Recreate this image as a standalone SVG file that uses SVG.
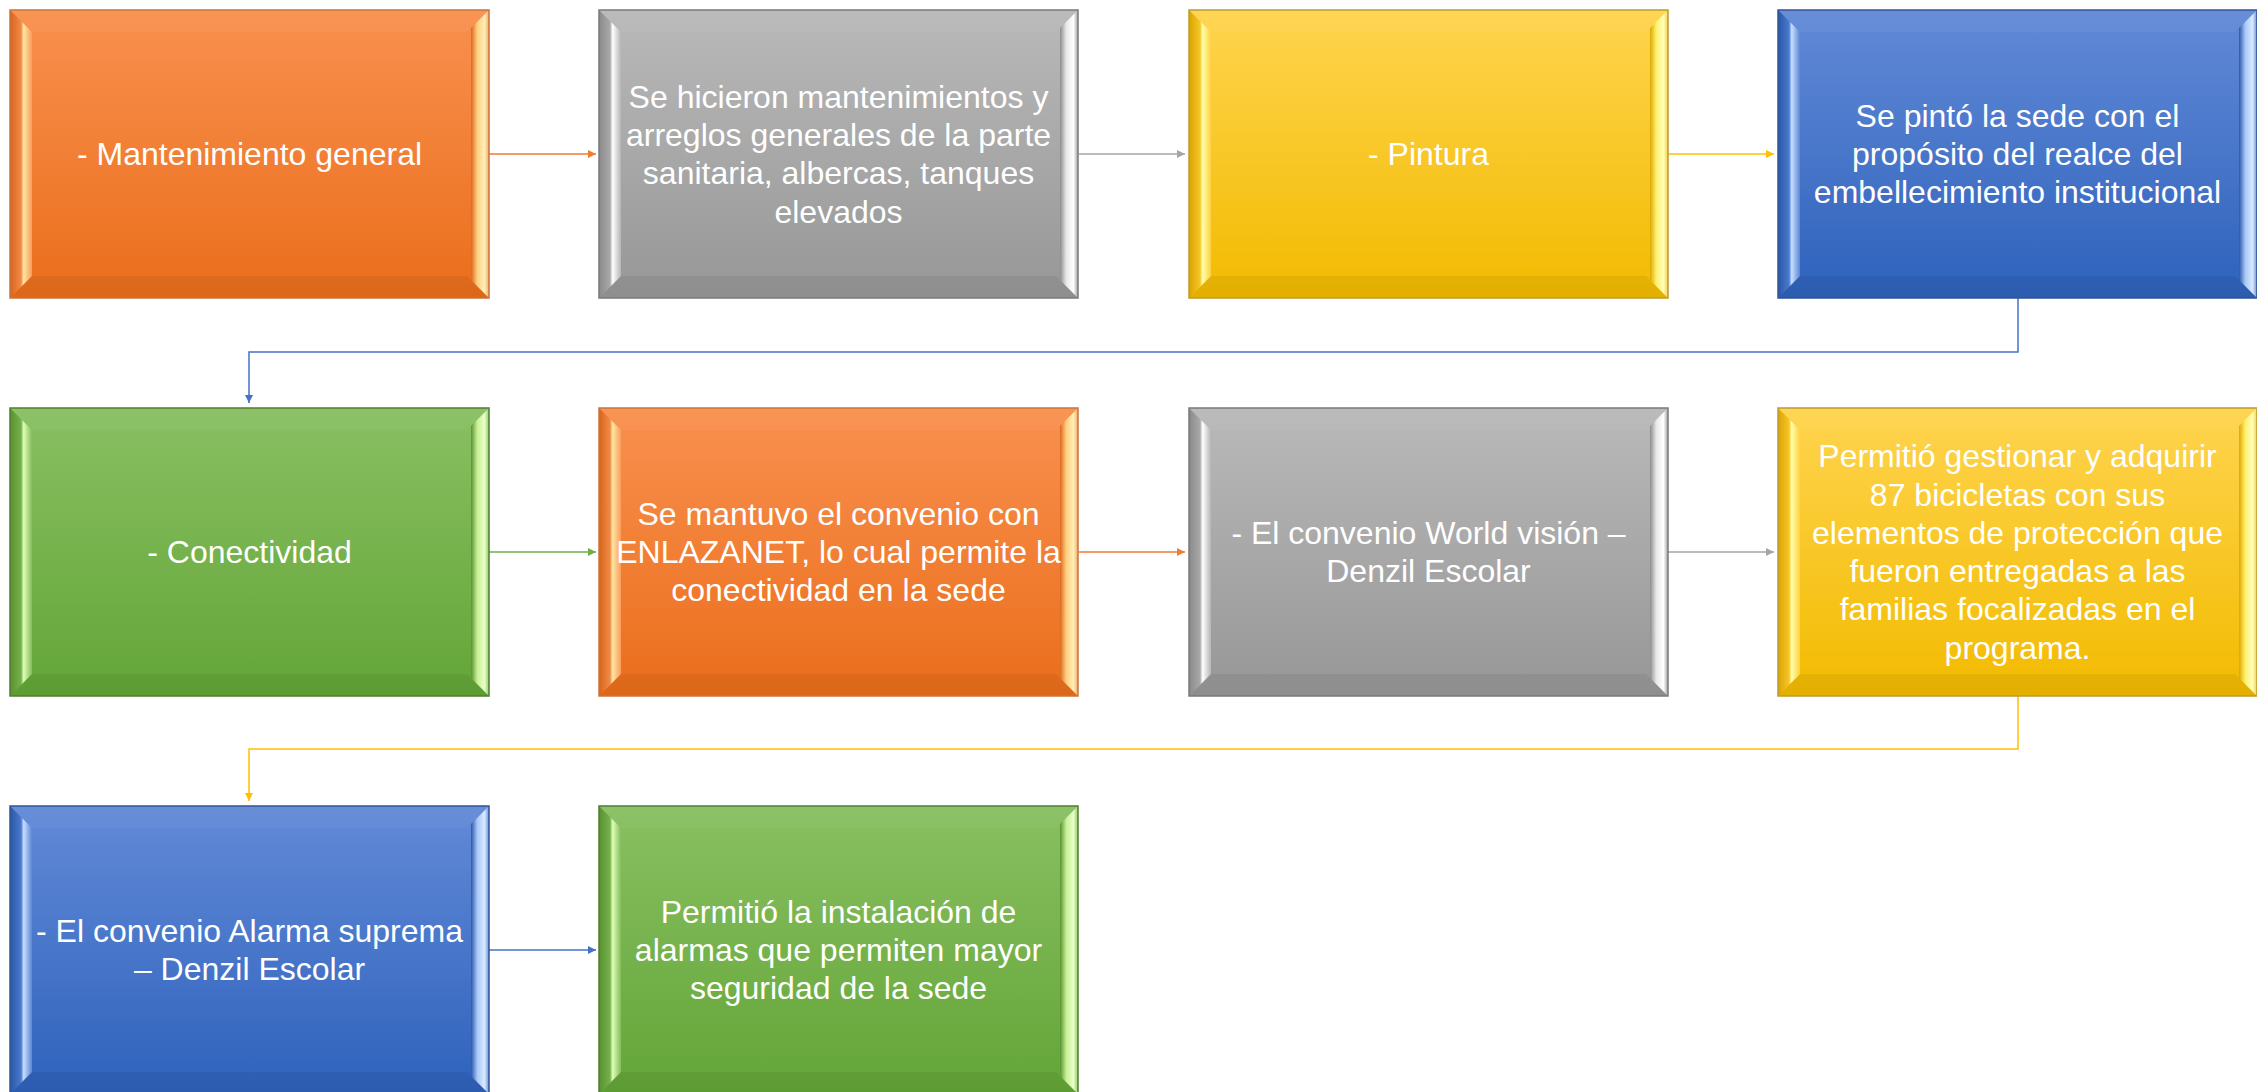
<svg xmlns="http://www.w3.org/2000/svg" width="2257" height="1092" viewBox="0 0 2257 1092">
<defs>
<style>
.t{font-family:"Liberation Sans",Arial,sans-serif;font-size:32px;fill:#fff;text-anchor:middle}
.top{fill:#fff;fill-opacity:.04}
.bot{fill:#000;fill-opacity:.06}
.edge{fill:none;stroke-width:1.5}
.c{fill:none;stroke-width:1.5}
</style>
<linearGradient id="bO" x1="0" y1="0" x2="0" y2="1"><stop offset="0" stop-color="#F9904F"/><stop offset="1" stop-color="#EA6E1B"/></linearGradient>
<linearGradient id="bG" x1="0" y1="0" x2="0" y2="1"><stop offset="0" stop-color="#B9B9B9"/><stop offset="1" stop-color="#979797"/></linearGradient>
<linearGradient id="bY" x1="0" y1="0" x2="0" y2="1"><stop offset="0" stop-color="#FFD44F"/><stop offset="1" stop-color="#F2BB00"/></linearGradient>
<linearGradient id="bB" x1="0" y1="0" x2="0" y2="1"><stop offset="0" stop-color="#628AD7"/><stop offset="1" stop-color="#2E62BC"/></linearGradient>
<linearGradient id="bN" x1="0" y1="0" x2="0" y2="1"><stop offset="0" stop-color="#89C062"/><stop offset="1" stop-color="#63A537"/></linearGradient>
<linearGradient id="lO" x1="0" y1="0" x2="1" y2="0"><stop offset="0" stop-color="#D9641A"/><stop offset=".5" stop-color="#F08A48"/><stop offset=".62" stop-color="#FFE6A0"/><stop offset="1" stop-color="#FA9C5C"/></linearGradient>
<linearGradient id="lG" x1="0" y1="0" x2="1" y2="0"><stop offset="0" stop-color="#8A8A8A"/><stop offset=".5" stop-color="#A8A8A8"/><stop offset=".62" stop-color="#FFFFFF"/><stop offset="1" stop-color="#B5B5B5"/></linearGradient>
<linearGradient id="lY" x1="0" y1="0" x2="1" y2="0"><stop offset="0" stop-color="#D9A500"/><stop offset=".5" stop-color="#F7C52A"/><stop offset=".62" stop-color="#FFFFA8"/><stop offset="1" stop-color="#FFD040"/></linearGradient>
<linearGradient id="lB" x1="0" y1="0" x2="1" y2="0"><stop offset="0" stop-color="#2A58A8"/><stop offset=".5" stop-color="#4A78CC"/><stop offset=".62" stop-color="#C6DEFF"/><stop offset="1" stop-color="#5C86D4"/></linearGradient>
<linearGradient id="lN" x1="0" y1="0" x2="1" y2="0"><stop offset="0" stop-color="#58922F"/><stop offset=".5" stop-color="#76B04C"/><stop offset=".62" stop-color="#DDFFB5"/><stop offset="1" stop-color="#84BC5C"/></linearGradient>
<linearGradient id="rO" x1="0" y1="0" x2="1" y2="0"><stop offset="0" stop-color="#DC681E"/><stop offset=".35" stop-color="#FFCF80"/><stop offset=".75" stop-color="#FFF0B8"/><stop offset="1" stop-color="#F4A868"/></linearGradient>
<linearGradient id="rG" x1="0" y1="0" x2="1" y2="0"><stop offset="0" stop-color="#8C8C8C"/><stop offset=".35" stop-color="#E8E8E8"/><stop offset=".75" stop-color="#FFFFFF"/><stop offset="1" stop-color="#A0A0A0"/></linearGradient>
<linearGradient id="rY" x1="0" y1="0" x2="1" y2="0"><stop offset="0" stop-color="#DDA800"/><stop offset=".35" stop-color="#FFF070"/><stop offset=".75" stop-color="#FFFFB8"/><stop offset="1" stop-color="#F5D050"/></linearGradient>
<linearGradient id="rB" x1="0" y1="0" x2="1" y2="0"><stop offset="0" stop-color="#2A58A8"/><stop offset=".35" stop-color="#A8C8F8"/><stop offset=".75" stop-color="#D8EAFF"/><stop offset="1" stop-color="#6A92D8"/></linearGradient>
<linearGradient id="rN" x1="0" y1="0" x2="1" y2="0"><stop offset="0" stop-color="#58922F"/><stop offset=".35" stop-color="#C8F096"/><stop offset=".75" stop-color="#E8FFC8"/><stop offset="1" stop-color="#92C86A"/></linearGradient>
<marker id="aO" markerUnits="userSpaceOnUse" markerWidth="10" markerHeight="10" refX="8" refY="4" orient="auto"><path d="M0,0 L8,4 L0,8 Z" fill="#ED7D31"/></marker>
<marker id="aG" markerUnits="userSpaceOnUse" markerWidth="10" markerHeight="10" refX="8" refY="4" orient="auto"><path d="M0,0 L8,4 L0,8 Z" fill="#A5A5A5"/></marker>
<marker id="aY" markerUnits="userSpaceOnUse" markerWidth="10" markerHeight="10" refX="8" refY="4" orient="auto"><path d="M0,0 L8,4 L0,8 Z" fill="#FFC000"/></marker>
<marker id="aB" markerUnits="userSpaceOnUse" markerWidth="10" markerHeight="10" refX="8" refY="4" orient="auto"><path d="M0,0 L8,4 L0,8 Z" fill="#4472C4"/></marker>
<marker id="aN" markerUnits="userSpaceOnUse" markerWidth="10" markerHeight="10" refX="8" refY="4" orient="auto"><path d="M0,0 L8,4 L0,8 Z" fill="#70AD47"/></marker>
</defs>

<rect width="2257" height="1092" fill="#fff"/>

<g id="connectors">
<path class="c" stroke="#ED7D31" d="M489,154 H596" marker-end="url(#aO)"/>
<path class="c" stroke="#A5A5A5" d="M1079,154 H1185" marker-end="url(#aG)"/>
<path class="c" stroke="#FFC000" d="M1668,154 H1774" marker-end="url(#aY)"/>
<path class="c" stroke="#4472C4" d="M2018,298 V352 H249 V403" marker-end="url(#aB)"/>
<path class="c" stroke="#70AD47" d="M489,552 H596" marker-end="url(#aN)"/>
<path class="c" stroke="#ED7D31" d="M1079,552 H1185" marker-end="url(#aO)"/>
<path class="c" stroke="#A5A5A5" d="M1668,552 H1774" marker-end="url(#aG)"/>
<path class="c" stroke="#FFC000" d="M2018,696 V749 H249 V801" marker-end="url(#aY)"/>
<path class="c" stroke="#4472C4" d="M489,950 H596" marker-end="url(#aB)"/>
</g>

<g id="n1" transform="translate(10,10)">
<rect width="479" height="288" fill="url(#bO)"/>
<polygon class="top" points="0,0 479,0 457,22 22,22"/>
<polygon class="bot" points="0,288 22,266 457,266 479,288"/>
<polygon points="0,0 22,22 22,266 0,288" fill="url(#lO)"/>
<polygon points="479,0 479,288 461,270 461,18" fill="url(#rO)"/>
<rect class="edge" width="479" height="288" stroke="#C8743E"/>
<text class="t" x="239.5" y="155">- Mantenimiento general</text>
</g>

<g id="n2" transform="translate(599,10)">
<rect width="479" height="288" fill="url(#bG)"/>
<polygon class="top" points="0,0 479,0 457,22 22,22"/>
<polygon class="bot" points="0,288 22,266 457,266 479,288"/>
<polygon points="0,0 22,22 22,266 0,288" fill="url(#lG)"/>
<polygon points="479,0 479,288 461,270 461,18" fill="url(#rG)"/>
<rect class="edge" width="479" height="288" stroke="#7A7A7A"/>
<text class="t" x="239.5" y="97.5">Se hicieron mantenimientos y</text>
<text class="t" x="239.5" y="135.8">arreglos generales de la parte</text>
<text class="t" x="239.5" y="174.2">sanitaria, albercas, tanques</text>
<text class="t" x="239.5" y="212.5">elevados</text>
</g>

<g id="n3" transform="translate(1189,10)">
<rect width="479" height="288" fill="url(#bY)"/>
<polygon class="top" points="0,0 479,0 457,22 22,22"/>
<polygon class="bot" points="0,288 22,266 457,266 479,288"/>
<polygon points="0,0 22,22 22,266 0,288" fill="url(#lY)"/>
<polygon points="479,0 479,288 461,270 461,18" fill="url(#rY)"/>
<rect class="edge" width="479" height="288" stroke="#BF9A30"/>
<text class="t" x="239.5" y="155">- Pintura</text>
</g>

<g id="n4" transform="translate(1778,10)">
<rect width="479" height="288" fill="url(#bB)"/>
<polygon class="top" points="0,0 479,0 457,22 22,22"/>
<polygon class="bot" points="0,288 22,266 457,266 479,288"/>
<polygon points="0,0 22,22 22,266 0,288" fill="url(#lB)"/>
<polygon points="479,0 479,288 461,270 461,18" fill="url(#rB)"/>
<rect class="edge" width="479" height="288" stroke="#2F5597"/>
<text class="t" x="239.5" y="116.7">Se pintó la sede con el</text>
<text class="t" x="239.5" y="155">propósito del realce del</text>
<text class="t" x="239.5" y="193.3">embellecimiento institucional</text>
</g>

<g id="n5" transform="translate(10,408)">
<rect width="479" height="288" fill="url(#bN)"/>
<polygon class="top" points="0,0 479,0 457,22 22,22"/>
<polygon class="bot" points="0,288 22,266 457,266 479,288"/>
<polygon points="0,0 22,22 22,266 0,288" fill="url(#lN)"/>
<polygon points="479,0 479,288 461,270 461,18" fill="url(#rN)"/>
<rect class="edge" width="479" height="288" stroke="#507E32"/>
<text class="t" x="239.5" y="155">- Conectividad</text>
</g>

<g id="n6" transform="translate(599,408)">
<rect width="479" height="288" fill="url(#bO)"/>
<polygon class="top" points="0,0 479,0 457,22 22,22"/>
<polygon class="bot" points="0,288 22,266 457,266 479,288"/>
<polygon points="0,0 22,22 22,266 0,288" fill="url(#lO)"/>
<polygon points="479,0 479,288 461,270 461,18" fill="url(#rO)"/>
<rect class="edge" width="479" height="288" stroke="#C8743E"/>
<text class="t" x="239.5" y="116.7">Se mantuvo el convenio con</text>
<text class="t" x="239.5" y="155">ENLAZANET, lo cual permite la</text>
<text class="t" x="239.5" y="193.3">conectividad en la sede</text>
</g>

<g id="n7" transform="translate(1189,408)">
<rect width="479" height="288" fill="url(#bG)"/>
<polygon class="top" points="0,0 479,0 457,22 22,22"/>
<polygon class="bot" points="0,288 22,266 457,266 479,288"/>
<polygon points="0,0 22,22 22,266 0,288" fill="url(#lG)"/>
<polygon points="479,0 479,288 461,270 461,18" fill="url(#rG)"/>
<rect class="edge" width="479" height="288" stroke="#7A7A7A"/>
<text class="t" x="239.5" y="135.8">- El convenio World visión –</text>
<text class="t" x="239.5" y="174.2">Denzil Escolar</text>
</g>

<g id="n8" transform="translate(1778,408)">
<rect width="479" height="288" fill="url(#bY)"/>
<polygon class="top" points="0,0 479,0 457,22 22,22"/>
<polygon class="bot" points="0,288 22,266 457,266 479,288"/>
<polygon points="0,0 22,22 22,266 0,288" fill="url(#lY)"/>
<polygon points="479,0 479,288 461,270 461,18" fill="url(#rY)"/>
<rect class="edge" width="479" height="288" stroke="#BF9A30"/>
<text class="t" x="239.5" y="59.3">Permitió gestionar y adquirir</text>
<text class="t" x="239.5" y="97.6">87 bicicletas con sus</text>
<text class="t" x="239.5" y="135.9">elementos de protección que</text>
<text class="t" x="239.5" y="174.1">fueron entregadas a las</text>
<text class="t" x="239.5" y="212.4">familias focalizadas en el</text>
<text class="t" x="239.5" y="250.7">programa.</text>
</g>

<g id="n9" transform="translate(10,806)">
<rect width="479" height="288" fill="url(#bB)"/>
<polygon class="top" points="0,0 479,0 457,22 22,22"/>
<polygon class="bot" points="0,288 22,266 457,266 479,288"/>
<polygon points="0,0 22,22 22,266 0,288" fill="url(#lB)"/>
<polygon points="479,0 479,288 461,270 461,18" fill="url(#rB)"/>
<rect class="edge" width="479" height="288" stroke="#2F5597"/>
<text class="t" x="239.5" y="135.8">- El convenio Alarma suprema</text>
<text class="t" x="239.5" y="174.2">– Denzil Escolar</text>
</g>

<g id="n10" transform="translate(599,806)">
<rect width="479" height="288" fill="url(#bN)"/>
<polygon class="top" points="0,0 479,0 457,22 22,22"/>
<polygon class="bot" points="0,288 22,266 457,266 479,288"/>
<polygon points="0,0 22,22 22,266 0,288" fill="url(#lN)"/>
<polygon points="479,0 479,288 461,270 461,18" fill="url(#rN)"/>
<rect class="edge" width="479" height="288" stroke="#507E32"/>
<text class="t" x="239.5" y="116.7">Permitió la instalación de</text>
<text class="t" x="239.5" y="155">alarmas que permiten mayor</text>
<text class="t" x="239.5" y="193.3">seguridad de la sede</text>
</g>
</svg>
